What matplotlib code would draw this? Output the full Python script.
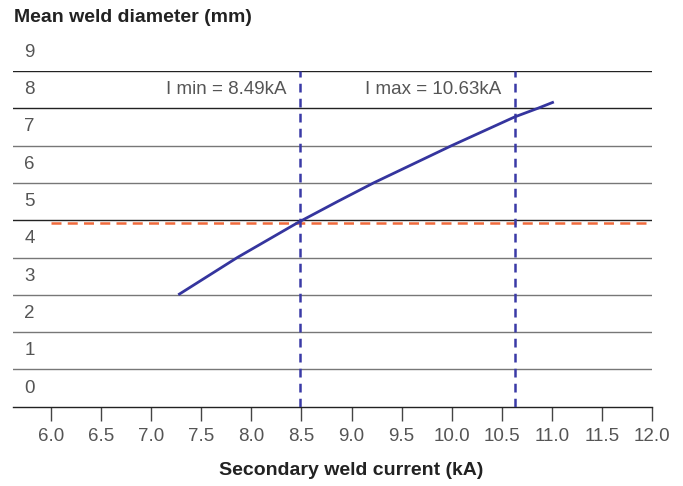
import matplotlib
matplotlib.use("Agg")
from matplotlib import pyplot as plt
from matplotlib import transforms

plt.rcParams['font.family'] = ['Liberation Sans', 'DejaVu Sans']

# weld curve
current = [7.27, 7.86, 8.46, 8.86, 9.22, 10.0, 10.63, 10.86, 11.02]
diameter = [3.0, 4.0, 4.93, 5.5, 6.0, 7.0, 7.77, 8.0, 8.17]

i_min = 8.49
i_max = 10.63
target_diameter = 4.92

x_ticks = [6.0, 6.5, 7.0, 7.5, 8.0, 8.5, 9.0, 9.5, 10.0, 10.5, 11.0, 11.5, 12.0]
y_levels = list(range(10))

fig = plt.figure(figsize=(6.83, 4.86), dpi=100)
ax = fig.add_axes([13.3 / 683, 1 - 406.7 / 486, (652 - 13.3) / 683, (406.7 - 71) / 486])
ax.set_xlim(5.623, 12.0)
ax.set_ylim(0, 9)

# horizontal grid lines
for lvl in y_levels[1:]:
    col = '#222222' if lvl in (8, 9, 5) else '#777777'
    ax.axhline(lvl, color=col, lw=1.0, zorder=1)

# y labels sit between the lines
tr = transforms.blended_transform_factory(ax.transAxes, ax.transData)
for lvl in y_levels:
    ax.text(11.0 / 638.7, lvl + 0.5, str(lvl), transform=tr, ha='left', va='center',
            fontsize=13.5, color='#555555', clip_on=False)

# target diameter line
ax.plot([6.0, 12.0], [target_diameter, target_diameter], color='#f06a3c', lw=1.8,
        dashes=(4, 2.5), zorder=2)

# current limits
for xv in (i_min, i_max):
    ax.plot([xv, xv], [0, 9], color='#3a3aa6', lw=1.8, dashes=(3.5, 2.5), zorder=3)

ax.plot(current, diameter, color='#35359e', lw=2.0, zorder=4,
        solid_capstyle='butt', solid_joinstyle='round')

ax.annotate('I min = %.2fkA' % i_min, xy=(i_min, 8.5), xytext=(-10, 0),
            textcoords='offset points', ha='right', va='center', fontsize=13.5, color='#555555')
ax.annotate('I max = %.2fkA' % i_max, xy=(i_max, 8.5), xytext=(-10, 0),
            textcoords='offset points', ha='right', va='center', fontsize=13.5, color='#555555')

for s in ('top', 'left', 'right'):
    ax.spines[s].set_visible(False)
ax.spines['bottom'].set_color('#222222')
ax.spines['bottom'].set_linewidth(1.0)

ax.set_yticks([])
ax.set_xticks(x_ticks)
ax.set_xticklabels(['%.1f' % v for v in x_ticks], fontsize=13.5, color='#555555')
ax.tick_params(axis='x', length=10, width=1.0, color='#444444', pad=5)

fig.text(14 / 683, 1 - 18 / 486, 'Mean weld diameter (mm)', fontsize=14,
         fontweight='bold', color='#222222', ha='left', va='center')
fig.text(351 / 683, 1 - 470 / 486, 'Secondary weld current (kA)', fontsize=14,
         fontweight='bold', color='#222222', ha='center', va='center')

fig.savefig('out.png', dpi=100)
